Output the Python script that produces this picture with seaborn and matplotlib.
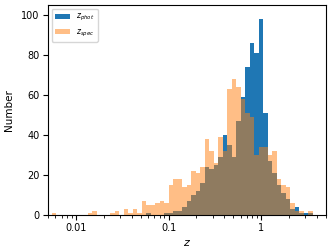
import numpy as np
import matplotlib
matplotlib.use("Agg")
import matplotlib.pyplot as plt
from matplotlib.ticker import FuncFormatter
import seaborn as sns

# log10 bin range and number of bins
log_lo = -2.259
log_hi = 0.554
n_bins = 58

# counts per bin
n_phot = [0, 0, 0, 0, 0, 0, 0, 0, 0, 0,
          0, 0, 0, 0, 0, 0, 0, 0, 0, 0,
          0, 1, 0, 0, 0, 1, 1, 2, 2, 4,
          7, 10, 12, 16, 24, 23, 25, 29, 40, 35,
          29, 47, 59, 74, 86, 81, 98, 51, 27, 21,
          15, 11, 8, 3, 4, 1, 1, 1]
n_spec = [1, 0, 0, 0, 0, 0, 0, 0, 1, 2,
          0, 0, 0, 1, 2, 0, 3, 1, 3, 1,
          7, 5, 5, 6, 7, 6, 15, 18, 18, 14,
          15, 22, 21, 24, 38, 32, 26, 39, 32, 63,
          68, 64, 58, 51, 49, 30, 34, 34, 30, 32,
          18, 15, 14, 6, 2, 2, 0, 2]

edges = np.linspace(log_lo, log_hi, n_bins + 1)
centers = 10 ** ((edges[:-1] + edges[1:]) / 2)

fig, ax = plt.subplots(figsize=(3.34, 2.5), dpi=100)
fig.subplots_adjust(left=0.144, right=0.976, top=0.98, bottom=0.14)

# bins as a plain list (seaborn compares bins == "auto" when weights are given)
sns.histplot(x=centers, weights=n_phot, bins=list(edges), log_scale=True,
             color="tab:blue", alpha=1, linewidth=0, label="$z_{phot}$", ax=ax)
sns.histplot(x=centers, weights=n_spec, bins=list(edges), log_scale=True,
             color="tab:orange", alpha=0.5, linewidth=0, label="$z_{spec}$", ax=ax)

ax.set_xlim(0.005, 5)
ax.set_ylim(0, 105)
ax.set_yticks([0, 20, 40, 60, 80, 100])
ax.xaxis.set_major_formatter(FuncFormatter(lambda v, p: f"{v:g}"))
ax.tick_params(labelsize=7, pad=2.5)
ax.set_xlabel("$z$", fontsize=8, labelpad=3)
ax.set_ylabel("Number", fontsize=7.5, labelpad=5)
ax.legend(loc="upper left", fontsize=5.5)

fig.savefig("out.png", dpi=100)
